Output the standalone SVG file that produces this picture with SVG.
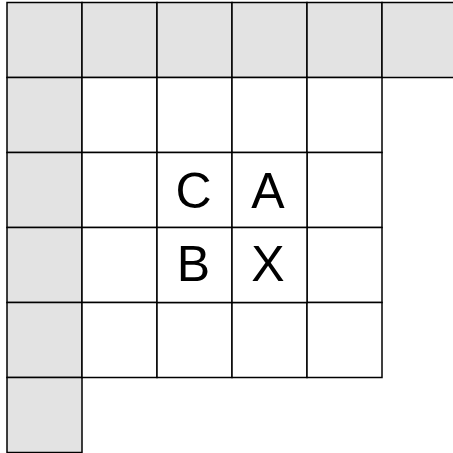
<svg xmlns="http://www.w3.org/2000/svg" width="453" height="453" viewBox="0 0 453 453">
<style>
.g{fill:#e3e3e3;stroke:#000;stroke-width:1.5}
.w{fill:#fff;stroke:#000;stroke-width:1.5}
.t{font-family:"Liberation Sans",Arial,sans-serif;font-size:50px;fill:#000;text-anchor:middle}
</style>
<rect width="453" height="453" fill="#fff"/>
<g id="header-row">
<rect class="g" x="7" y="2.5" width="75" height="75"/>
<rect class="g" x="82" y="2.5" width="75" height="75"/>
<rect class="g" x="157" y="2.5" width="75" height="75"/>
<rect class="g" x="232" y="2.5" width="75" height="75"/>
<rect class="g" x="307" y="2.5" width="75" height="75"/>
<rect class="g" x="382" y="2.5" width="75" height="75"/>
</g>
<g id="header-col">
<rect class="g" x="7" y="77.5" width="75" height="75"/>
<rect class="g" x="7" y="152.5" width="75" height="75"/>
<rect class="g" x="7" y="227.5" width="75" height="75"/>
<rect class="g" x="7" y="302.5" width="75" height="75"/>
<rect class="g" x="7" y="377.5" width="75" height="75"/>
</g>
<g id="grid">
<rect class="w" x="82" y="77.5" width="75" height="75"/>
<rect class="w" x="157" y="77.5" width="75" height="75"/>
<rect class="w" x="232" y="77.5" width="75" height="75"/>
<rect class="w" x="307" y="77.5" width="75" height="75"/>
<rect class="w" x="82" y="152.5" width="75" height="75"/>
<rect class="w" x="307" y="152.5" width="75" height="75"/>
<rect class="w" x="82" y="227.5" width="75" height="75"/>
<rect class="w" x="307" y="227.5" width="75" height="75"/>
<rect class="w" x="82" y="302.5" width="75" height="75"/>
<rect class="w" x="157" y="302.5" width="75" height="75"/>
<rect class="w" x="232" y="302.5" width="75" height="75"/>
<rect class="w" x="307" y="302.5" width="75" height="75"/>
</g>
<g id="cell-C"><rect class="w" x="157" y="152.5" width="75" height="75"/><text class="t" x="193.5" y="208">C</text></g>
<g id="cell-A"><rect class="w" x="232" y="152.5" width="75" height="75"/><text class="t" x="268" y="208">A</text></g>
<g id="cell-B"><rect class="w" x="157" y="227.5" width="75" height="75"/><text class="t" x="193.5" y="281">B</text></g>
<g id="cell-X"><rect class="w" x="232" y="227.5" width="75" height="75"/><text class="t" x="268" y="281">X</text></g>
<g id="connectors"/>
</svg>
